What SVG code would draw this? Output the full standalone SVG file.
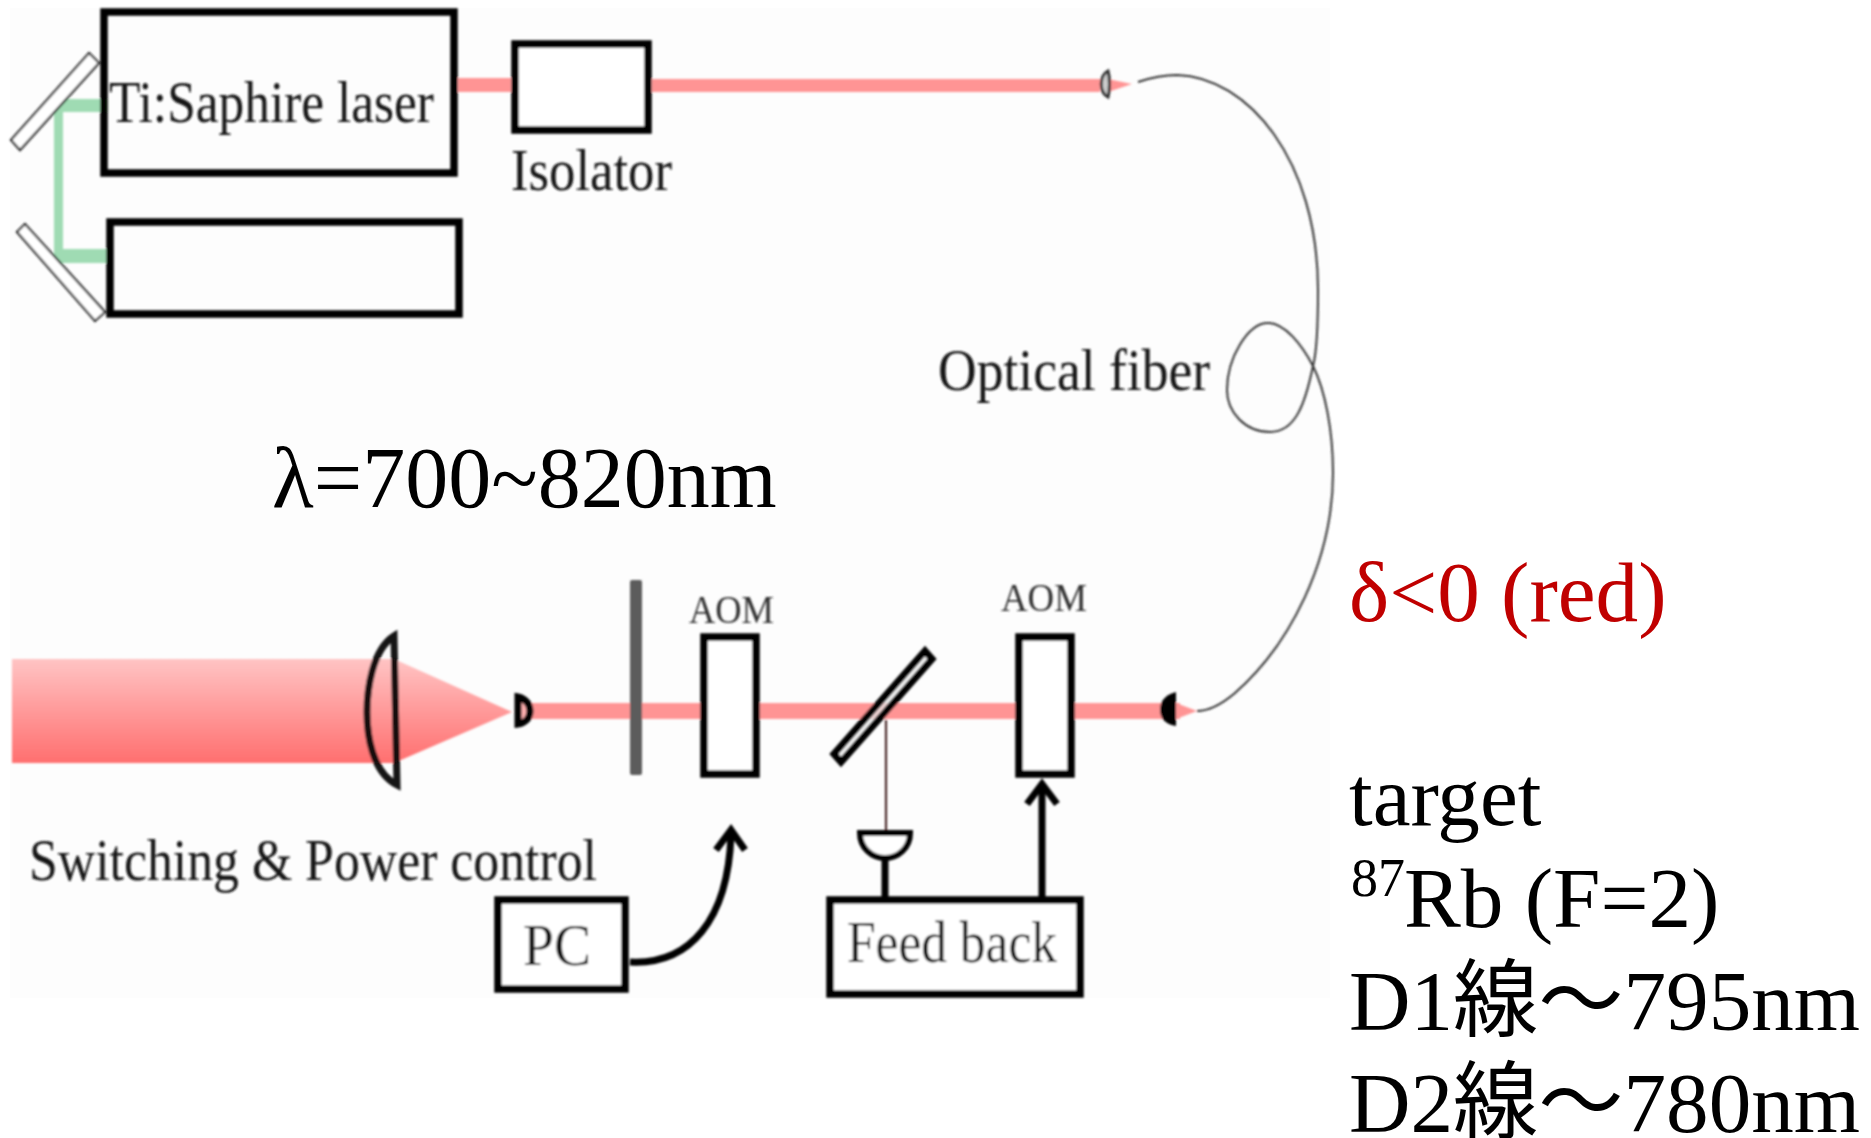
<svg xmlns="http://www.w3.org/2000/svg" width="1871" height="1138" viewBox="0 0 1871 1138">
<style>
.box{fill:#fff;stroke:#000;stroke-width:7.5}
.open{fill:none;stroke:#000;stroke-width:7.5}
.beam{fill:#ff9494}
.green{fill:#9fdbb3}
.mir{fill:#fff;stroke:#222;stroke-width:2.2}
.lab{font-family:"Liberation Serif",serif;font-size:60px;fill:#151515}
.aom{font-family:"Liberation Serif",serif;font-size:40px;fill:#333}
.big{font-family:"Liberation Serif","Noto Sans CJK JP",serif;font-size:85.2px;fill:#000}
.thick{fill:none;stroke:#000;stroke-width:7}
</style>
<defs>
<linearGradient id="bg" x1="0" y1="0" x2="0" y2="1"><stop offset="0" stop-color="#ffc4c4"/><stop offset="1" stop-color="#ff6f6f"/></linearGradient>
<filter id="soft" x="-5%" y="-5%" width="110%" height="110%"><feGaussianBlur stdDeviation="1"/></filter>
</defs>
<rect width="1871" height="1138" fill="#fff"/>
<rect x="10" y="8" width="1320" height="990" fill="#fdfdfd"/>
<g filter="url(#soft)">
<g id="beams">
<rect class="beam" x="458" y="78" width="53" height="14"/>
<rect class="beam" x="652" y="79" width="448" height="13"/>
<path class="beam" d="M1108,79 L1132,84 L1108,92 Z"/>
<rect class="green" x="58" y="99" width="50" height="13"/>
<rect class="green" x="54" y="99" width="9" height="164"/>
<rect class="green" x="56" y="249" width="55" height="14"/>
<path fill="url(#bg)" d="M12,659 H394 L512,712 L394,763 H12 Z"/>
<rect class="beam" x="530" y="703" width="650" height="16"/>
<path class="beam" d="M1176,703 L1197,711 L1176,719 Z"/>
</g>
<g id="connectors">
<path id="fiber" fill="none" stroke="#333" stroke-width="2" d="M1138,82 C1150,78 1163,75 1177,75 C1248,77 1318,160 1318,290 C1318,330 1316,355 1313,366 C1305,405 1295,432 1270,432 C1245,432 1227,412 1227,390 C1227,358 1248,323 1268,323 C1285,323 1302,345 1313,366 C1325,390 1333,430 1333,473 C1333,560 1290,645 1235,693 C1222,704 1210,711 1197,711"/>
<path class="thick" d="M630,962 C690,965 728,920 731,835"/>
<path class="thick" d="M716,850 L731,830 L745,850"/>
<path class="thick" d="M1042,897 V786"/>
<path class="thick" d="M1027,804 L1042,784 L1057,804"/>
<path class="thick" d="M885,858 V897"/>
<path fill="none" stroke="#3a1515" stroke-width="2" d="M886,720 V830"/>
</g>
<g id="mirror1"><polygon class="mir" points="89,53 99,63 20,150 11,140"/></g>
<g id="mirror2"><polygon class="mir" points="25,224 17,232 95,321 105,312"/></g>
<g id="laser"><rect class="open" x="104" y="12" width="350" height="161"/>
<text class="lab" x="109" y="122" textLength="325" lengthAdjust="spacingAndGlyphs">Ti:Saphire laser</text></g>
<g id="pump"><rect class="open" x="110" y="222" width="349" height="92"/></g>
<g id="isolator"><rect class="box" x="515" y="44" width="133" height="86"/>
<text class="lab" x="511" y="190" textLength="161" lengthAdjust="spacingAndGlyphs">Isolator</text></g>
<g id="fiber-label"><text class="lab" x="938" y="390" textLength="272" lengthAdjust="spacingAndGlyphs">Optical fiber</text></g>
<g id="lens-top"><path d="M1108,71 C1099,76 1099,92 1108,97 C1110,90 1110,78 1108,71 Z" fill="#ccc" stroke="#333" stroke-width="3"/></g>
<g id="lens-big"><path fill="none" stroke="#000" stroke-opacity="0.92" stroke-width="7" d="M394,636 C372,650 367,690 367,712 C367,735 372,772 397,785 Z"/></g>
<g id="lens-small"><path fill="#ffb0b0" stroke="#000" stroke-width="7" d="M518,697 C527,699 530,706 530,711 C530,716 527,723 518,724 Z"/></g>
<g id="plate"><rect x="630" y="580" width="12" height="195" rx="2" fill="#5c5c5c"/></g>
<g id="aom1"><rect class="box" x="704" y="637" width="52" height="137"/>
<text class="aom" x="689" y="623" textLength="85" lengthAdjust="spacingAndGlyphs">AOM</text></g>
<g id="beamsplitter"><polygon points="925,651 932,659 841,762 834,754" fill="#eee" fill-opacity="0.75" stroke="#000" stroke-width="7"/></g>
<g id="aom2"><rect class="box" x="1019" y="637" width="52" height="137"/>
<text class="aom" x="1001" y="611" textLength="86" lengthAdjust="spacingAndGlyphs">AOM</text></g>
<g id="lens-out"><path fill="#000" d="M1176,692 C1163,695 1160,704 1160,709 C1160,716 1163,724 1176,726 Z"/></g>
<g id="detector"><path fill="#fff" stroke="#000" stroke-width="6" d="M860,833 H910 C910,848 898,858 885,858 C872,858 860,848 860,833 Z"/></g>
<g id="pc"><rect class="box" x="498" y="900" width="127" height="89"/>
<text class="lab" x="523" y="965" textLength="68" lengthAdjust="spacingAndGlyphs">PC</text></g>
<g id="feedback"><rect class="box" x="830" y="900" width="250" height="94"/>
<text class="lab" x="847" y="962" textLength="210" lengthAdjust="spacingAndGlyphs">Feed back</text></g>
<g id="switching-label"><text class="lab" x="29" y="880" textLength="568" lengthAdjust="spacingAndGlyphs">Switching &amp; Power control</text></g>
</g>
<g id="annotations">
<text class="big" x="272" y="507" style="font-size:86px">λ=700~820nm</text>
<text class="big" x="1349" y="621" style="fill:#c00000">δ&lt;0 (red)</text>
<text class="big" x="1349" y="825">target</text>
<text class="big" x="1351" y="896" style="font-size:54px">87</text>
<text class="big" x="1404" y="927">Rb (F=2)</text>
<text class="big" x="1349" y="1030">D1線～795nm</text>
<text class="big" x="1349" y="1132">D2線～780nm</text>
</g>
</svg>
